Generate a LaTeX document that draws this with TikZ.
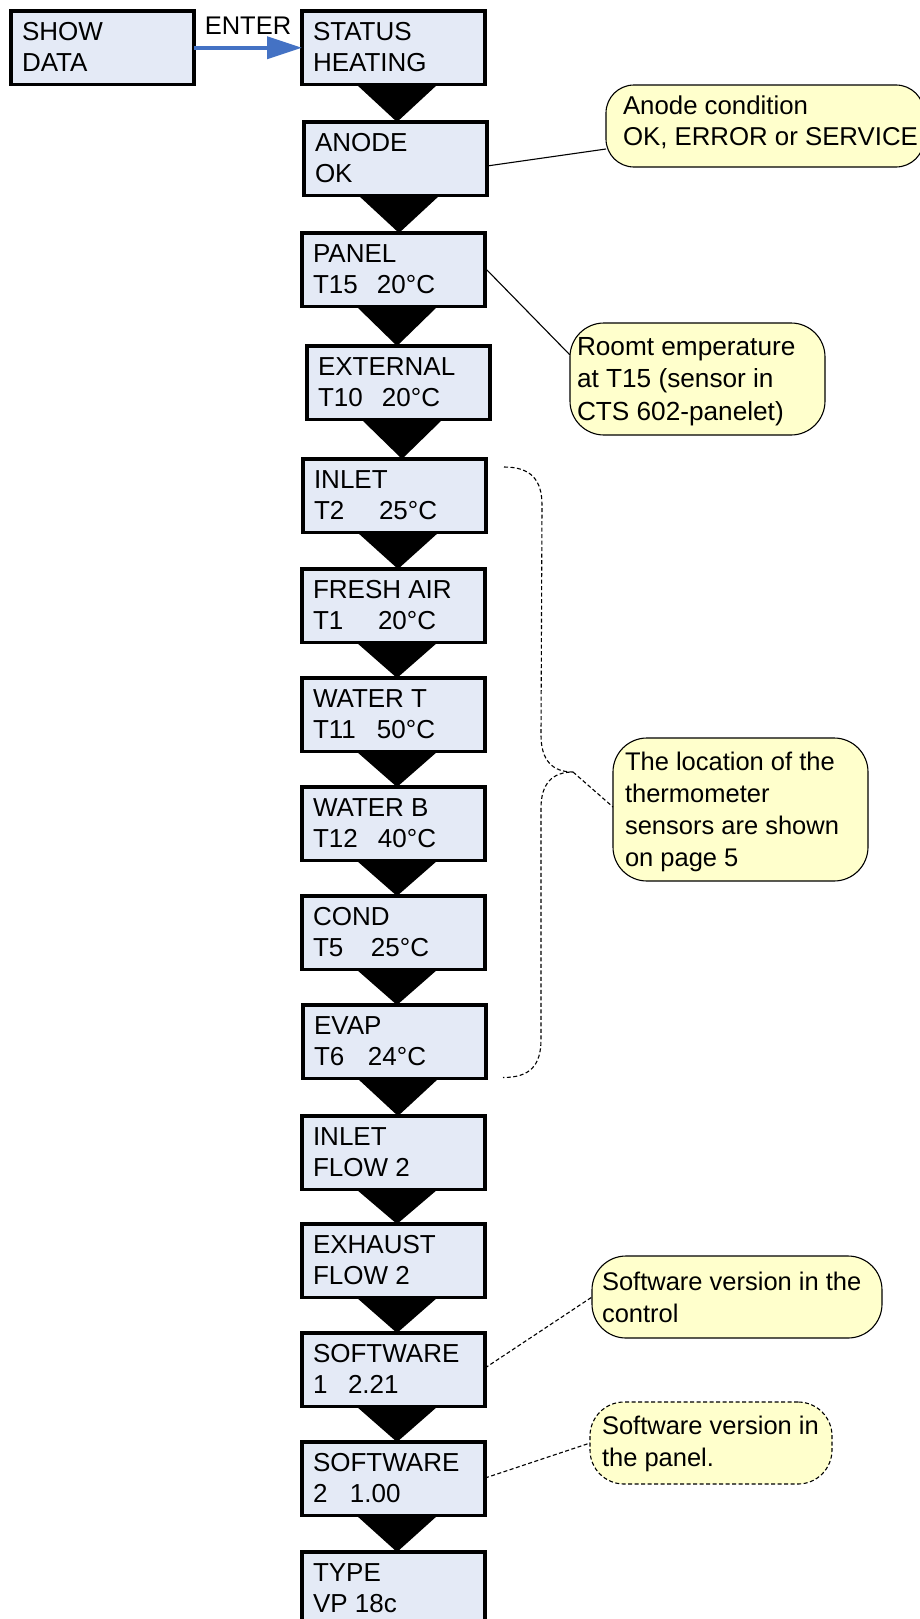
\documentclass[tikz,border=0pt]{standalone}
\usepackage{fontspec}
\setmainfont{Liberation Sans}
\usetikzlibrary{calc,arrows.meta}

\definecolor{screenfill}{RGB}{228,234,246}
\definecolor{notefill}{RGB}{255,255,204}
\definecolor{enterblue}{RGB}{68,114,196}

\pgfdeclarelayer{back}
\pgfsetlayers{back,main}

\tikzset{
  scrbox/.style={draw=black, line width=3.1pt, fill=screenfill,
    minimum width=183pt, minimum height=73.5pt, inner sep=0pt,
    outer sep=0pt, anchor=north west},
  scrtext/.style={inner sep=0pt, outer sep=0pt, anchor=north west,
    align=left, font=\fontsize{26}{31}\selectfont},
  note/.style={draw=black, line width=1.1pt, fill=notefill,
    rounded corners=34pt, inner sep=0pt, outer sep=0pt, anchor=north west},
  notetext/.style={inner sep=0pt, outer sep=0pt, anchor=north west, align=left},
  leader/.style={line width=1.1pt},
  dashedleader/.style={line width=1.1pt, dash pattern=on 4pt off 2.5pt},
  flowtri/.style={fill=black},
}

% one display screen: name, left, top, first line, second line
\newcommand\screen[5]{%
  \node[scrbox] (#1) at (#2,#3) {};
  \node[scrtext] (#1-text) at ($(#1.north west)+(11,9)$) {\rule{0pt}{20pt}#4\\#5};}

% black step triangle from one screen down to the next
\newcommand\flow[2]{%
  \fill[flowtri] let \p1=(#1.south), \p2=(#2.north) in
    (\x1-37pt,\y1) -- (\x1+44pt,\y1) -- (\x1+3.5pt,\y2) -- cycle;}

\begin{document}
\begin{tikzpicture}[x=1pt, y=-1pt]
\useasboundingbox (0,0) rectangle (920,1619);
\begin{pgfonlayer}{back}
  \fill[white] (0,0) rectangle (920,1619);
\end{pgfonlayer}
\clip (0,0) rectangle (920,1619);

% menu screens
\screen{showdata}{11}{11}{SHOW}{DATA}
\screen{status}{302}{11}{STATUS}{HEATING}
\screen{anode}{304}{122}{ANODE}{OK}
\screen{panel}{302}{233}{PANEL}{\makebox[64pt][l]{T15}20°C}
\screen{external}{307}{346}{EXTERNAL}{\makebox[64pt][l]{T10}20°C}
\screen{inlet}{303}{459}{INLET}{\makebox[65pt][l]{T2}25°C}
\screen{freshair}{302}{569}{FRESH AIR}{\makebox[65pt][l]{T1}20°C}
\screen{watert}{302}{678}{WATER T}{\makebox[64pt][l]{T11}50°C}
\screen{waterb}{302}{787}{WATER B}{\makebox[65pt][l]{T12}40°C}
\screen{cond}{302}{896}{COND}{\makebox[58pt][l]{T5}25°C}
\screen{evap}{303}{1005}{EVAP}{\makebox[54pt][l]{T6}24°C}
\screen{inletflow}{302}{1116}{INLET}{FLOW 2}
\screen{exhaust}{302}{1224}{EXHAUST}{FLOW 2}
\screen{swone}{302}{1333}{SOFTWARE}{\makebox[35pt][l]{1}2.21}
\screen{swtwo}{302}{1442}{SOFTWARE}{\makebox[37pt][l]{2}1.00}
\screen{type}{302}{1552}{TYPE}{VP 18c}

% step triangles
\begin{pgfonlayer}{back}
  \flow{status}{anode}
  \flow{anode}{panel}
  \flow{panel}{external}
  \flow{external}{inlet}
  \flow{inlet}{freshair}
  \flow{freshair}{watert}
  \flow{watert}{waterb}
  \flow{waterb}{cond}
  \flow{cond}{evap}
  \flow{evap}{inletflow}
  \flow{inletflow}{exhaust}
  \flow{exhaust}{swone}
  \flow{swone}{swtwo}
  \flow{swtwo}{type}
\end{pgfonlayer}

% ENTER arrow
\draw[line width=4pt, enterblue, -{Triangle[length=35pt,width=22pt]}]
  (showdata.east) -- node[above=11pt, inner sep=0pt, text=black,
  font=\fontsize{25.5}{31}\selectfont] (enterlabel) {ENTER} (status.west);

% notes
\node[note, rounded corners=28pt, minimum width=318pt, minimum height=82pt] (anodenote) at (606,85) {};
\node[notetext, font=\fontsize{25.8}{31}\selectfont] (anodenote-text) at (623,94)
  {\rule{0pt}{20pt}Anode condition\\OK, ERROR or SERVICE};

\node[note, minimum width=255pt, minimum height=112pt] (roomnote) at (570,323) {};
\node[notetext, font=\fontsize{26.2}{32.5}\selectfont] (roomnote-text) at (577,335)
  {\rule{0pt}{20pt}Roomt emperature\\at T15 (sensor in\\CTS 602-panelet)};

\node[note, minimum width=255pt, minimum height=143pt] (thermonote) at (613,738) {};
\node[notetext, font=\fontsize{25.5}{32}\selectfont] (thermonote-text) at (625,750)
  {\rule{0pt}{20pt}The location of the\\thermometer\\sensors are shown\\on page 5};

\node[note, minimum width=290pt, minimum height=82pt] (swctrlnote) at (592,1256) {};
\node[notetext, font=\fontsize{25.5}{32}\selectfont] (swctrlnote-text) at (602,1270)
  {\rule{0pt}{20pt}Software version in the\\control};

\node[note, dash pattern=on 4pt off 2.5pt, minimum width=242pt, minimum height=82pt] (swpanelnote) at (590,1402) {};
\node[notetext, font=\fontsize{25.5}{32}\selectfont] (swpanelnote-text) at (602,1414)
  {\rule{0pt}{20pt}Software version in\\the panel.};

% leaders to the notes
\draw[leader] ($(anode.north east)+(0,44)$) -- ($(anodenote.north west)+(0,64)$);
\draw[leader] ($(panel.north east)+(0,35)$) -- ($(roomnote.north west)+(0,32)$);
\draw[dashedleader] ($(swone.north east)+(0,35)$) -- ($(swctrlnote.north west)+(0,41)$);
\draw[dashedleader] ($(swtwo.north east)+(0,36)$) -- ($(swpanelnote.north west)+(0,41)$);

% dashed brace over the temperature screens
\coordinate (braceA) at ($(inlet.north east)+(18,8)$);
\coordinate (braceB) at ($(evap.south east)+(17,-1)$);
\coordinate (braceT) at ($(thermonote.north west)+(-40,34)$);
\draw[dashedleader]
  (braceA) .. controls +(27,0) and +(0,-25) .. ($(braceA)+(38,38)$)
  -- ($(braceT)+(-32,-37)$) .. controls +(0,25) and +(-21,0) .. (braceT)
  .. controls +(-21,0) and +(0,-24) .. ($(braceT)+(-32,36)$)
  -- ($(braceB)+(38,-38)$) .. controls +(0,26) and +(27,0) .. (braceB);
\draw[dashedleader] (braceT) -- ($(thermonote.north west)+(0,69)$);
\end{tikzpicture}
\end{document}
